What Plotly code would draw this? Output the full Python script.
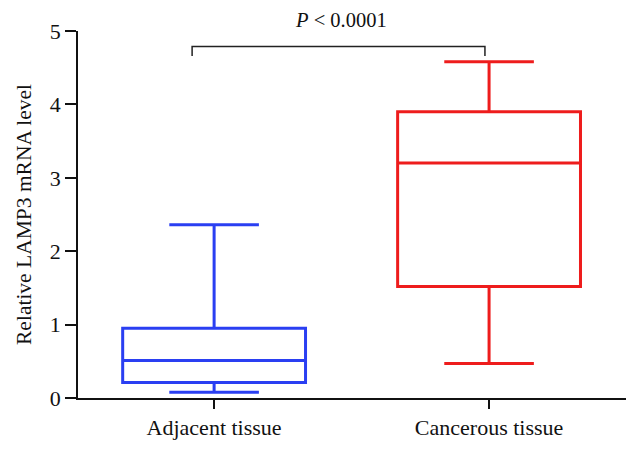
import plotly.graph_objects as go

categories = ["Adjacent tissue", "Cancerous tissue"]
lower_fence = [0.08, 0.47]
q1_values = [0.21, 1.52]
median_values = [0.51, 3.20]
q3_values = [0.95, 3.90]
upper_fence = [2.36, 4.58]
colors = ["#2a3ff2", "#ee1c1c"]
y_ticks = [0, 1, 2, 3, 4, 5]
p_label = "<i>P</i> < 0.0001"

FONT = "Liberation Serif"

fig = go.Figure()
for i, cat in enumerate(categories):
    fig.add_trace(go.Box(
        x=[i],
        q1=[q1_values[i]],
        median=[median_values[i]],
        q3=[q3_values[i]],
        lowerfence=[lower_fence[i]],
        upperfence=[upper_fence[i]],
        width=0.665,
        whiskerwidth=0.49,
        line=dict(color=colors[i], width=3),
        fillcolor="rgba(0,0,0,0)",
        boxpoints=False,
        name=cat,
        showlegend=False,
        hoverinfo="skip",
    ))

# significance bracket
fig.add_shape(type="path",
              path="M -0.08,4.66 L -0.08,4.79 L 0.985,4.79 L 0.985,4.66",
              xref="x", yref="y",
              line=dict(color="#222222", width=1.5))
fig.add_annotation(x=0.46, xref="x", y=1.0 + (31 - 20) / 367.0, yref="paper", text=p_label,
                   showarrow=False, font=dict(family=FONT, size=20.5, color="#111111"),
                   yanchor="middle")

fig.update_layout(
    width=641, height=451,
    margin=dict(l=78, r=15, t=31, b=53),
    paper_bgcolor="white", plot_bgcolor="white",
    font=dict(family=FONT, color="#111111", size=20),
    boxmode="overlay",
)
fig.update_xaxes(
    range=[-0.495, 1.498],
    tickmode="array", tickvals=[0, 1], ticktext=categories,
    showline=True, linecolor="#111111", linewidth=1.8,
    ticks="outside", ticklen=9, tickwidth=1.8, tickcolor="#111111",
    showgrid=False, zeroline=False,
    tickfont=dict(family=FONT, size=22),
)
fig.update_yaxes(
    range=[0, 5],
    tickmode="array", tickvals=y_ticks,
    showline=True, linecolor="#111111", linewidth=1.8,
    ticks="outside", ticklen=11, tickwidth=1.8, tickcolor="#111111",
    showgrid=False, zeroline=False,
    tickfont=dict(family=FONT, size=22),
    title=dict(text="Relative LAMP3 mRNA level", font=dict(family=FONT, size=21.5), standoff=12),
)

fig.write_html("out.html", config={"displayModeBar": False},
               post_script="document.body.style.margin='0';")
